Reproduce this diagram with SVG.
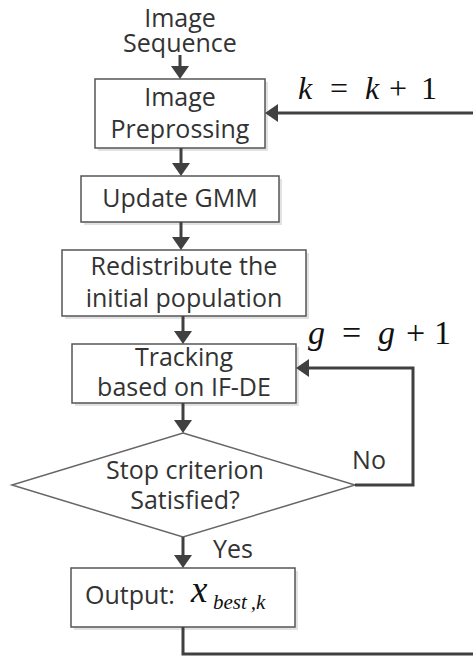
<svg xmlns="http://www.w3.org/2000/svg" width="473" height="656" viewBox="0 0 473 656">
<defs>
<marker id="ah" viewBox="0 0 13 18" refX="10" refY="9" markerWidth="13" markerHeight="18" markerUnits="userSpaceOnUse" orient="auto">
<path d="M0,0 L13,9 L0,18 z" fill="#404040"/>
</marker>
</defs>
<style>
.box{fill:#fff;stroke:#555;stroke-width:1.5}
.sh{fill:#e2e2e2}
.t{font-family:"Open Sans","DejaVu Sans",sans-serif;font-size:25px;fill:#333;text-anchor:middle}
.c{fill:none;stroke:#404040;stroke-width:3}
.m{font-family:"Liberation Serif","Times New Roman",serif;fill:#111}
.i{font-style:italic}
</style>
<rect width="473" height="656" fill="#fff"/>

<g id="input">
<text class="t" x="180" y="27">Image</text>
<text class="t" x="180" y="52">Sequence</text>
</g>

<g id="preprocess">
<rect class="sh" x="98" y="82" width="170" height="69"/>
<rect class="box" x="95" y="79" width="170" height="69"/>
<text class="t" x="180" y="106">Image</text>
<text class="t" x="180" y="138">Preprossing</text>
</g>

<g id="gmm">
<rect class="sh" x="84" y="179" width="198" height="46"/>
<rect class="box" x="81" y="176" width="198" height="46"/>
<text class="t" x="180" y="207">Update GMM</text>
</g>

<g id="redistribute">
<rect class="sh" x="65" y="253" width="244" height="66"/>
<rect class="box" x="62" y="250" width="244" height="66"/>
<text class="t" x="184" y="275">Redistribute the</text>
<text class="t" x="184" y="307">initial population</text>
</g>

<g id="tracking">
<rect class="sh" x="75" y="347" width="224" height="59"/>
<rect class="box" x="72" y="344" width="224" height="59"/>
<text class="t" x="184" y="366">Tracking</text>
<text class="t" x="184" y="396">based on IF-DE</text>
</g>

<g id="decision">
<polygon points="183,433 355,485 183,537 12,485" fill="#fff" stroke="#666" stroke-width="1.5"/>
<text class="t" x="185" y="479">Stop criterion</text>
<text class="t" x="185" y="509">Satisfied?</text>
</g>

<g id="output">
<rect class="sh" x="74" y="571" width="224" height="59"/>
<rect class="box" x="71" y="568" width="224" height="59"/>
<text class="t" x="85" y="604" style="text-anchor:start">Output:</text>
<text class="m i" x="191" y="602" font-size="37">x</text>
<text class="m i" x="213" y="609" font-size="21">best<tspan dx="4">,</tspan>k</text>
</g>

<g id="connectors">
<line class="c" x1="180" y1="55" x2="180" y2="76" marker-end="url(#ah)"/>
<line class="c" x1="181" y1="148" x2="181" y2="173" marker-end="url(#ah)"/>
<line class="c" x1="181" y1="222" x2="181" y2="247" marker-end="url(#ah)"/>
<line class="c" x1="183" y1="316" x2="183" y2="341" marker-end="url(#ah)"/>
<line class="c" x1="183" y1="403" x2="183" y2="430" marker-end="url(#ah)"/>
<line class="c" x1="183" y1="537" x2="183" y2="565" marker-end="url(#ah)"/>
<polyline class="c" points="355,485 413,485 413,368 299,368" marker-end="url(#ah)"/>
<polyline class="c" points="183,627 183,654 475,654 475,113 268,113" marker-end="url(#ah)"/>
</g>

<g id="labels">
<text class="t" x="369" y="469">No</text>
<text class="t" x="233" y="558">Yes</text>
<text class="m" y="99" font-size="32"><tspan class="i" x="298">k</tspan><tspan x="330">=</tspan><tspan class="i" x="365">k</tspan><tspan x="389">+</tspan><tspan x="421">1</tspan></text>
<text class="m" y="344" font-size="34"><tspan class="i" x="308">g</tspan><tspan x="342">=</tspan><tspan class="i" x="378">g</tspan><tspan x="406">+</tspan><tspan x="434">1</tspan></text>
</g>
</svg>
